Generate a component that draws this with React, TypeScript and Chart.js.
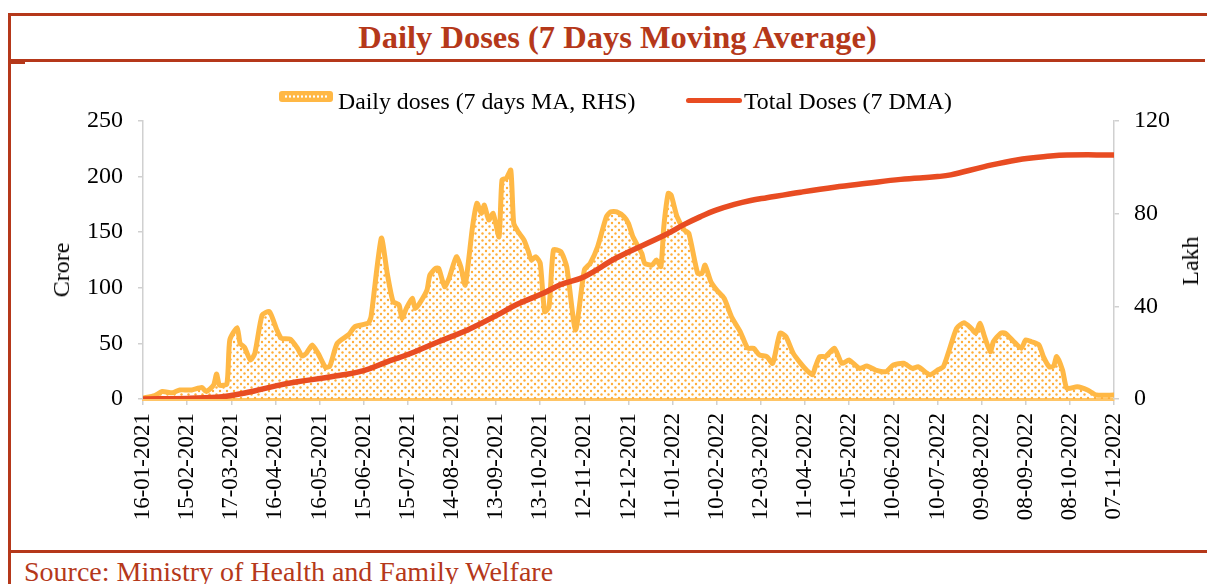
import React, { useEffect, useRef } from 'react';
import { Chart, registerables } from 'chart.js';

Chart.register(...registerables);

const FONT = "'Liberation Serif', 'Times New Roman', Times, serif";
const BROWN = '#B5381A';
const ORANGE = '#FFB845';
const RED = '#E84C22';

// x tick labels, one every 30 days starting 16-01-2021 (day 0)
const xTickLabels = [
  '16-01-2021', '15-02-2021', '17-03-2021', '16-04-2021', '16-05-2021', '15-06-2021',
  '15-07-2021', '14-08-2021', '13-09-2021', '13-10-2021', '12-11-2021', '12-12-2021',
  '11-01-2022', '10-02-2022', '12-03-2022', '11-04-2022', '11-05-2022', '10-06-2022',
  '10-07-2022', '09-08-2022', '08-09-2022', '08-10-2022', '07-11-2022',
];

// Daily doses (7 days MA), Lakh, RHS — day offsets from 16-01-2021
const dailyDays = [
  0, 8, 13, 20, 25, 33, 40, 43, 48, 50, 52, 57, 59, 64, 66, 69, 73, 76, 81, 86,
  91, 94, 100, 105, 108, 111, 115, 119, 124, 127, 132, 140, 144, 153, 155, 162, 166, 170, 174, 176,
  179, 183, 185, 188, 193, 195, 199, 201, 205, 208, 213, 216, 219, 224, 227, 230, 232, 235, 238, 242,
  244, 247, 250, 252, 255, 259, 262, 264, 267, 270, 273, 276, 279, 284, 288, 294, 300, 304, 309, 315,
  318, 322, 327, 330, 333, 339, 341, 346, 349, 352, 354, 357, 359, 363, 368, 371, 377, 380, 382, 386,
  390, 395, 400, 406, 411, 415, 419, 424, 428, 433, 437, 442, 447, 451, 455, 457, 460, 464, 470, 475,
  480, 487, 492, 498, 505, 510, 517, 523, 527, 535, 540, 544, 548, 553, 558, 563, 566, 569, 572, 576,
  578, 583, 586, 592, 597, 600, 604, 609, 612, 616, 619, 621, 625, 628, 635, 642, 648, 660,
];
const dailyLakh = [
  0.4, 1.5, 3.2, 2.7, 3.9, 3.9, 5.0, 3.2, 6.0, 10.8, 6.0, 6.5, 25.5, 30.8, 24.0, 22.3, 16.8, 19.7, 36.3, 37.7,
  29.8, 26.2, 25.8, 21.9, 18.6, 19.7, 23.3, 19.7, 13.7, 14.2, 24.0, 27.9, 31.2, 32.7, 35.5, 69.4, 54.3, 42.0, 40.6, 34.8,
  39.1, 43.5, 39.1, 41.3, 47.0, 53.5, 56.4, 56.4, 48.5, 52.1, 61.4, 57.1, 49.2, 74.4, 84.5, 80.1, 83.7, 77.3, 80.1, 70.0,
  94.5, 95.3, 98.8, 75.8, 72.2, 68.6, 63.6, 60.0, 61.4, 58.6, 37.7, 39.8, 64.3, 63.6, 57.1, 29.8, 55.7, 58.6, 65.7, 78.7,
  80.8, 80.8, 78.7, 75.8, 70.0, 62.9, 58.6, 57.8, 60.0, 57.1, 74.4, 88.8, 88.0, 78.7, 72.9, 71.5, 54.3, 54.3, 57.8, 50.6,
  47.0, 43.5, 35.5, 29.0, 21.9, 21.9, 19.0, 18.3, 15.4, 28.4, 26.9, 19.7, 15.4, 12.5, 10.4, 13.9, 18.3, 18.3, 21.9, 15.4,
  16.8, 13.2, 14.2, 12.5, 11.8, 14.7, 15.4, 13.2, 13.9, 10.4, 12.5, 13.9, 21.1, 30.5, 32.9, 30.5, 28.4, 32.7, 26.9, 20.4,
  24.7, 28.4, 28.4, 24.7, 21.9, 25.5, 24.7, 23.3, 18.3, 13.9, 14.2, 18.3, 12.5, 4.6, 5.3, 3.9, 1.7, 1.7,
];

// Total doses (7 DMA), Crore, LHS
const totalDays = [
  0, 30, 50, 59, 75, 91, 105, 128, 150, 165, 180, 200, 222, 243, 254, 272, 284, 300, 322, 354,
  368, 379, 390, 402, 413, 424, 447, 470, 492, 515, 540, 549, 572, 594, 617, 628, 660,
];
const totalCrore = [
  0, 0.5, 1.5, 3, 7, 12, 15.5, 20, 25.5, 33, 40, 51, 63, 77, 85, 95, 103, 110, 127, 147,
  157, 164, 170, 175, 178.5, 181, 186, 190.5, 194, 197.5, 200, 201.5, 209, 215, 218.5, 219.4, 219.5,
];

function makePattern(): CanvasPattern | string {
  const c = document.createElement('canvas');
  c.width = 7;
  c.height = 7;
  const g = c.getContext('2d');
  if (!g) return 'rgba(255,184,69,0.25)';
  g.fillStyle = '#FFAE3A';
  g.beginPath();
  g.arc(1.5, 1.5, 1.2, 0, Math.PI * 2);
  g.fill();
  g.beginPath();
  g.arc(5, 5, 1.2, 0, Math.PI * 2);
  g.fill();
  return g.createPattern(c, 'repeat') || 'rgba(255,184,69,0.25)';
}

function ChartCanvas() {
  const ref = useRef<HTMLCanvasElement | null>(null);
  useEffect(() => {
    if (!ref.current) return;
    const pattern = makePattern();
    const tickFont = { family: FONT, size: 24 };
    const chart = new Chart(ref.current, {
      type: 'line',
      data: {
        datasets: [
          {
            label: 'Total Doses (7 DMA)',
            data: totalDays.map((d, i) => ({ x: d, y: totalCrore[i] })),
            yAxisID: 'y',
            borderColor: RED,
            borderWidth: 5.5,
            pointRadius: 0,
            tension: 0.4,
            fill: false,
            borderCapStyle: 'round',
            borderJoinStyle: 'round',
          },
          {
            label: 'Daily doses (7 days MA, RHS)',
            data: dailyDays.map((d, i) => ({ x: d, y: dailyLakh[i] })),
            yAxisID: 'y1',
            borderColor: ORANGE,
            borderWidth: 5,
            backgroundColor: pattern as any,
            fill: 'origin',
            pointRadius: 0,
            tension: 0.2,
            borderJoinStyle: 'round',
            borderCapStyle: 'round',
          },
        ],
      },
      options: {
        responsive: false,
        animation: false,
        devicePixelRatio: 1,
        layout: { padding: { top: 57, left: 0, right: 0, bottom: 0 } },
        plugins: {
          legend: { display: false },
          tooltip: { enabled: false },
          title: { display: false },
        },
        scales: {
          x: {
            type: 'linear',
            min: 0,
            max: 660,
            ticks: {
              stepSize: 30,
              autoSkip: false,
              maxRotation: 90,
              minRotation: 90,
              padding: 8,
              color: '#000',
              font: { family: FONT, size: 23 },
              callback: (v: any) => {
                const i = Math.round(Number(v) / 30);
                return xTickLabels[i] ?? '';
              },
            },
            grid: { drawOnChartArea: false, drawTicks: true, tickLength: 6, color: '#D0D0D0', lineWidth: 1.5 },
            border: { display: true, color: '#FFC566', width: 3 },
            afterFit: (s: any) => { s.height = 149; },
          },
          y: {
            type: 'linear',
            position: 'left',
            min: 0,
            max: 250,
            ticks: { stepSize: 50, padding: 15, color: '#000', font: tickFont },
            grid: { drawOnChartArea: false, tickLength: 5, color: '#D0D0D0', lineWidth: 1.5 },
            border: { display: true, color: '#D0D0D0', width: 1.5 },
            afterFit: (s: any) => { s.width = 131; },
          },
          y1: {
            type: 'linear',
            position: 'right',
            min: 0,
            max: 120,
            ticks: { stepSize: 40, padding: 15, color: '#000', font: tickFont },
            grid: { drawOnChartArea: false, tickLength: 5, color: '#D0D0D0', lineWidth: 1.5 },
            border: { display: true, color: '#D0D0D0', width: 1.5 },
            afterFit: (s: any) => { s.width = 91; },
          },
        },
      },
    } as any);
    return () => chart.destroy();
  }, []);
  return (
    <canvas
      ref={ref}
      width={1193}
      height={484}
      style={{ position: 'absolute', left: 12, top: 64, width: 1193, height: 484 }}
    />
  );
}

export default function App() {
  const text: React.CSSProperties = { position: 'absolute', fontFamily: FONT, whiteSpace: 'nowrap', color: '#000' };
  return (
    <div style={{ position: 'absolute', left: 0, top: 0, width: 1207, height: 584, background: '#fff', overflow: 'hidden' }}>
      {/* frame */}
      <div style={{ position: 'absolute', left: 8, top: 13, width: 1199, height: 3, background: BROWN }} />
      <div style={{ position: 'absolute', left: 8, top: 13, width: 3, height: 571, background: BROWN }} />
      <div style={{ position: 'absolute', left: 8, top: 59, width: 1197, height: 3, background: BROWN }} />
      <div style={{ position: 'absolute', left: 8, top: 62, width: 17, height: 2, background: BROWN }} />
      <div style={{ position: 'absolute', left: 8, top: 550, width: 1199, height: 3, background: BROWN }} />

      {/* title */}
      <div style={{ ...text, left: 0, width: 1235, top: 17, height: 40, lineHeight: '40px', textAlign: 'center', fontSize: 32.5, fontWeight: 'bold', color: BROWN }}>
        Daily Doses (7 Days Moving Average)
      </div>

      <ChartCanvas />

      {/* legend */}
      <div style={{ position: 'absolute', left: 279, top: 91, width: 54, height: 11, borderRadius: 3, background: ORANGE }}>
        <div style={{ position: 'absolute', left: 5, right: 5, top: 4, height: 3, backgroundImage: 'radial-gradient(circle, #fff 1px, transparent 1.3px)', backgroundSize: '4px 3px' }} />
      </div>
      <div style={{ ...text, left: 338, top: 88, height: 26, lineHeight: '26px', fontSize: 23.8 }}>Daily doses (7 days MA, RHS)</div>
      <div style={{ position: 'absolute', left: 686, top: 98, width: 56, height: 5, borderRadius: 3, background: RED }} />
      <div style={{ ...text, left: 744, top: 88, height: 26, lineHeight: '26px', fontSize: 23.8 }}>Total Doses (7 DMA)</div>

      {/* axis titles */}
      <div style={{ ...text, left: 61, top: 270, fontSize: 24, lineHeight: '24px', transform: 'translate(-50%, -50%) rotate(-90deg)' }}>Crore</div>
      <div style={{ ...text, left: 1190, top: 261, fontSize: 24, lineHeight: '24px', transform: 'translate(-50%, -50%) rotate(-90deg)' }}>Lakh</div>

      {/* source */}
      <div style={{ ...text, left: 24, top: 557, height: 30, lineHeight: '30px', fontSize: 28, color: BROWN }}>
        Source: Ministry of Health and Family Welfare
      </div>
    </div>
  );
}
